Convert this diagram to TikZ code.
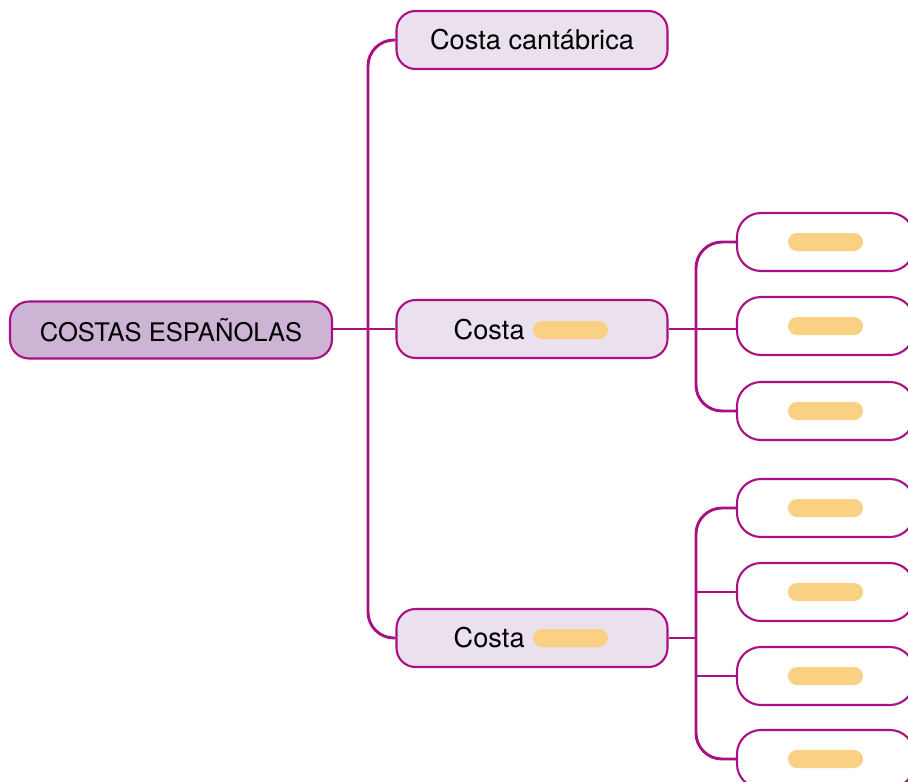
\documentclass[tikz,border=0pt]{standalone}
\usepackage{fontspec}
\usepackage{pdfrender}
\setmainfont{TeX Gyre Heros}
\newcommand{\medtxt}[1]{\textpdfrender{TextRenderingMode=FillStroke,LineWidth=0.55pt}{#1}}
\definecolor{mag}{RGB}{170,16,132}
\definecolor{rootfill}{RGB}{205,180,213}
\definecolor{brfill}{RGB}{235,224,238}
\definecolor{pillc}{RGB}{250,208,131}
\begin{document}
\begin{tikzpicture}[x=1pt,y=-1pt,
  rootbox/.style={draw=mag, line width=2.1pt, fill=rootfill, rounded corners=19pt, minimum width=322pt, minimum height=57pt, inner sep=0pt, font=\fontsize{25.6}{30}\selectfont},
  brbox/.style={draw=mag, line width=2.1pt, fill=brfill, rounded corners=19pt, minimum width=271pt, minimum height=58pt, inner sep=0pt, font=\fontsize{27.2}{32}\selectfont},
  leafbox/.style={draw=mag, line width=2.1pt, fill=white, rounded corners=24pt, minimum width=177pt, minimum height=58pt, inner sep=0pt},
  pill/.style={fill=pillc, rounded corners=9pt, minimum width=75pt, minimum height=18pt, inner sep=0pt},
  lbl/.style={inner sep=0pt, font=\fontsize{27.2}{32}\selectfont},
  conn/.style={draw=mag, line width=2.9pt, rounded corners=26pt}
]
\clip (0,0) rectangle (908,782);
\fill[white] (0,0) rectangle (908,782);
% root and branches
\node[rootbox] (root) at (171,330) {\medtxt{COSTAS ESPAÑOLAS}};
\node[brbox] (cant) at (532,40) {\medtxt{Costa cantábrica}};
\node[brbox] (mid) at (532,329) {};
\node[brbox] (bot) at (532,638) {};
\node[pill] (pm) at (570.5,330) {};
\node[lbl, anchor=east] (tm) at ([xshift=-8pt]pm.west) {\medtxt{Costa}};
\node[pill] (pb) at (570.5,638) {};
\node[lbl, anchor=east] (tb) at ([xshift=-8pt]pb.west) {\medtxt{Costa}};
% leaves
\foreach \n/\y in {l1/242,l2/326,l3/411,l4/508,l5/592,l6/676,l7/759}{
  \node[leafbox] (\n) at (825.5,\y) {};
  \node[pill] (p\n) at (\n.center) {};
}
% trunk coordinates
\coordinate (tk) at (368,0);
\coordinate (bx) at (696,0);
% connectors
\draw[conn] (root.east |- mid.west) -- (mid.west);
\draw[conn] (cant.west) -| (tk |- mid.west) |- (bot.west);
\draw[conn] (mid.east) -- (mid.east -| l2.west);
\draw[conn] (l1.west) -| (bx |- mid.east) |- (l3.west);
\draw[conn] (bot.east) -- (bot.east -| bx);
\draw[conn] (l4.west) -| (bx |- bot.east) |- (l7.west);
\draw[conn] (l5.west) -- (l5.west -| bx);
\draw[conn] (l6.west) -- (l6.west -| bx);
\end{tikzpicture}
\end{document}
